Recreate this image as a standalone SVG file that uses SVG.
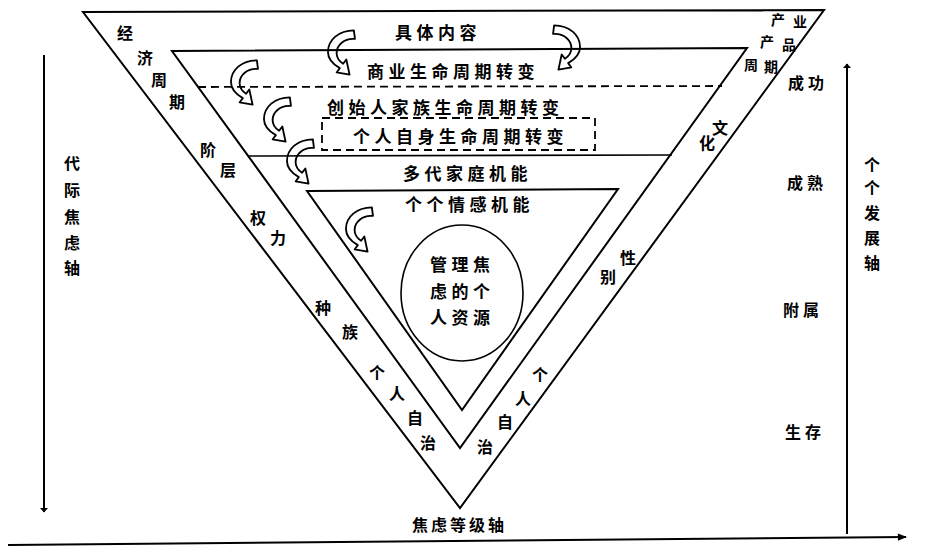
<svg xmlns="http://www.w3.org/2000/svg" width="935" height="548" viewBox="0 0 935 548">
<style>
.ln{fill:none;stroke:#000;stroke-width:2}
.th{fill:none;stroke:#000;stroke-width:1.6}
.ds{fill:none;stroke:#000;stroke-width:1.8;stroke-dasharray:8 5}
.t{font-family:"Noto Sans CJK SC","Noto Sans CJK JP",sans-serif;font-weight:bold;fill:#000}
.m{font-size:17px;letter-spacing:4.5px}
.d{font-size:16px;text-anchor:middle}
.s{font-size:14px;text-anchor:middle}
.ca{fill:none;stroke:#000;stroke-width:1.7;stroke-linejoin:round}
</style>
<defs>
<path id="carrow" d="M11,-21 L12,-13 C2,-14 -5,-7 -5,0 C-5,5 -2,8 1,10 L4,6 L7,20 L-5,18 L-2,14 C-9,10 -13,5 -13,-1 C-13,-12 -3,-21 11,-21 Z"/>
<marker id="ah" viewBox="0 0 10 10" refX="9" refY="5" markerWidth="14" markerHeight="9" markerUnits="userSpaceOnUse" orient="auto"><path d="M0,1 L10,5 L0,9 Z" fill="#000"/></marker>
<marker id="ahv" viewBox="0 0 10 20" refX="9" refY="10" markerWidth="20" markerHeight="9" markerUnits="userSpaceOnUse" orient="auto"><path d="M0,1 L10,10 L0,19 Z" fill="#000"/></marker>
</defs>

<g id="outer-triangle">
<path class="ln" d="M83,12 L824,10 L460,508 Z"/>
</g>
<g id="middle-triangle">
<path class="ln" d="M172,51 L747,48 L460,448 Z"/>
<line class="ds" x1="198" y1="87" x2="722" y2="86"/>
<line class="th" x1="249" y1="156" x2="672" y2="155"/>
</g>
<g id="inner-triangle">
<path class="ln" d="M307,191 L618,189 L462,410 Z"/>
</g>
<g id="dashed-box">
<rect class="ds" x="322" y="118" width="273" height="32"/>
</g>
<g id="core-circle">
<ellipse class="th" cx="462" cy="293" rx="61" ry="68"/>
<text class="t m" x="430" y="271">管理焦</text>
<text class="t m" x="430" y="298">虑的个</text>
<text class="t m" x="430" y="324">人资源</text>
</g>

<g id="layer-labels">
<text class="t m" x="395" y="39">具体内容</text>
<text class="t m" x="367" y="78">商业生命周期转变</text>
<text class="t m" x="327" y="114">创始人家族生命周期转变</text>
<text class="t m" x="353" y="143">个人自身生命周期转变</text>
<text class="t m" x="403" y="180">多代家庭机能</text>
<text class="t m" x="405" y="211">个个情感机能</text>
</g>

<g id="left-band-labels">
<text class="t d" x="125" y="39">经</text>
<text class="t d" x="145" y="64">济</text>
<text class="t d" x="159" y="86">周</text>
<text class="t d" x="177" y="108">期</text>
<text class="t d" x="208" y="156">阶</text>
<text class="t d" x="228" y="176">层</text>
<text class="t d" x="258" y="224">权</text>
<text class="t d" x="278" y="244">力</text>
<text class="t d" x="323" y="314">种</text>
<text class="t d" x="350" y="338">族</text>
<text class="t d" x="377" y="379">个</text>
<text class="t d" x="397" y="399">人</text>
<text class="t d" x="415" y="424">自</text>
<text class="t d" x="428" y="449">治</text>
</g>

<g id="right-band-labels">
<text class="t s" x="778" y="25">产</text>
<text class="t s" x="800" y="27">业</text>
<text class="t s" x="767" y="47">产</text>
<text class="t s" x="789" y="50">品</text>
<text class="t s" x="751" y="70">周</text>
<text class="t s" x="771" y="72">期</text>
<text class="t d" x="720" y="134">文</text>
<text class="t d" x="707" y="149">化</text>
<text class="t d" x="628" y="264">性</text>
<text class="t d" x="608" y="283">别</text>
<text class="t d" x="540" y="381">个</text>
<text class="t d" x="523" y="404">人</text>
<text class="t d" x="505" y="428">自</text>
<text class="t d" x="485" y="453">治</text>
</g>

<g id="curved-arrows">
<use href="#carrow" class="ca" transform="translate(342,53) scale(1.08)"/>
<use href="#carrow" class="ca" transform="translate(566,48) scale(-1.08,1.08)"/>
<use href="#carrow" class="ca" transform="translate(245,83) scale(1.08)"/>
<use href="#carrow" class="ca" transform="translate(278,120) scale(1.08)"/>
<use href="#carrow" class="ca" transform="translate(301,162) scale(1.08)"/>
<use href="#carrow" class="ca" transform="translate(360,230) scale(1.08)"/>
</g>

<g id="connectors">
<line x1="44" y1="55" x2="44" y2="512" stroke="#000" stroke-width="2" marker-end="url(#ahv)"/>
<line x1="847" y1="534" x2="847" y2="64" stroke="#000" stroke-width="2" marker-end="url(#ahv)"/>
<line x1="8" y1="545" x2="906" y2="537" stroke="#000" stroke-width="2" marker-end="url(#ah)"/>
</g>

<g id="axis-labels">
<text class="t d" x="72" y="169">代</text>
<text class="t d" x="72" y="196">际</text>
<text class="t d" x="72" y="223">焦</text>
<text class="t d" x="72" y="249">虑</text>
<text class="t d" x="72" y="274">轴</text>
<text class="t d" x="872" y="171">个</text>
<text class="t d" x="872" y="194">个</text>
<text class="t d" x="872" y="219">发</text>
<text class="t d" x="872" y="244">展</text>
<text class="t d" x="872" y="269">轴</text>
<text class="t" font-size="16" letter-spacing="3" x="412" y="531">焦虑等级轴</text>
</g>

<g id="stage-labels">
<text class="t" font-size="16" letter-spacing="4" x="788" y="89">成功</text>
<text class="t" font-size="16" letter-spacing="4" x="787" y="189">成熟</text>
<text class="t" font-size="16" letter-spacing="4" x="783" y="316">附属</text>
<text class="t" font-size="16" letter-spacing="4" x="785" y="438">生存</text>
</g>
</svg>
